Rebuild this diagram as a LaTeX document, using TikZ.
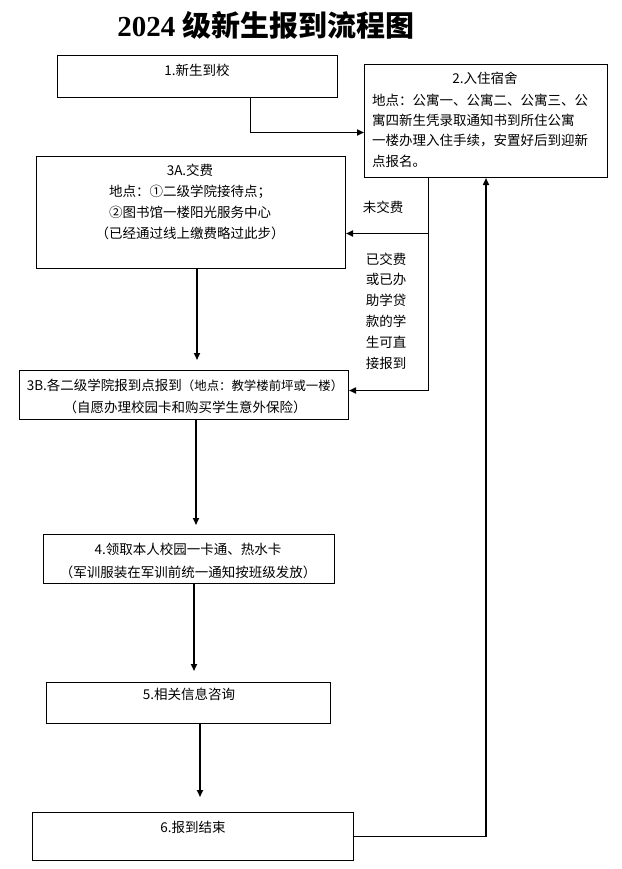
\documentclass[tikz,border=0pt]{standalone}
\usepackage{fontspec}
\setmainfont{Noto Sans CJK SC}
\newfontfamily\titlenum{Liberation Serif}
\usetikzlibrary{arrows.meta}

\tikzset{
  box/.style={draw,line width=1pt,rectangle,inner sep=0pt,anchor=north west},
  txt/.style={align=center,inner sep=0pt,font=\fontsize{13.5}{21}\selectfont},
  conn/.style={line width=1.6pt},
}

\begin{document}
\begin{tikzpicture}[x=1pt,y=-1pt,>={Triangle[length=7pt,width=6pt]}]
\useasboundingbox (0,0) rectangle (621,869);
\node (title) at (266,25) {\fontsize{29}{32}\selectfont\bfseries\titlenum 2024 \rmfamily 级新生报到流程图};
% boxes
\node[box,minimum width=280,minimum height=42] (b1) at (57,55) {};
\node[box,minimum width=243,minimum height=113] (b2) at (364,64) {};
\node[box,minimum width=309,minimum height=112] (b3a) at (36,156) {};
\node[box,minimum width=329,minimum height=49] (b3b) at (19,370) {};
\node[box,minimum width=291,minimum height=49] (b4) at (43,534) {};
\node[box,minimum width=284,minimum height=41] (b5) at (46,682) {};
\node[box,minimum width=321,minimum height=48] (b6) at (32,812) {};
% texts
\node[txt] (t1) at (197,70) {1.新生到校};
\node[txt] (t2) at (485,78) {2.入住宿舍};
\node[txt,align=left,anchor=west,font=\fontsize{13.5}{20.3}\selectfont] (t2b) at (372,130.5)
  {地点：公寓一、公寓二、公寓三、公\\寓四新生凭录取通知书到所住公寓\\一楼办理入住手续，安置好后到迎新\\点报名。};
\node[txt] (t3a) at (190,201.5) {3A.交费\\地点：①二级学院接待点；\\②图书馆一楼阳光服务中心\\（已经通过线上缴费略过此步）};
\node[txt,font=\fontsize{13.5}{22}\selectfont] (t3b) at (185,396)
  {3B.各二级学院报到点报到{\fontsize{12.4}{22}\selectfont（地点：教学楼前坪或一楼）}\\（自愿办理校园卡和购买学生意外保险）};
\node[txt,font=\fontsize{13.5}{23}\selectfont] (t4) at (188,560.5) {4.领取本人校园一卡通、热水卡\\（军训服装在军训前统一通知按班级发放）};
\node[txt] (t5) at (189,694) {5.相关信息咨询};
\node[txt] (t6) at (193,827) {6.报到结束};
\node[txt] (nopay) at (383,207) {未交费};
\node[txt,font=\fontsize{13.5}{20.8}\selectfont] (paid) at (386,311) {已交费\\或已办\\助学贷\\款的学\\生可直\\接报到};
% connectors
\coordinate (fork) at ([xshift=-57.5pt]b2.south);
\coordinate (back) at ([yshift=-21pt]b3a.east);
\draw[conn,->] ([xshift=53pt]b1.south) |- ([yshift=-11.5pt]b2.west);
\draw[conn,->] (fork) |- ([yshift=4.5pt]b3b.east);
\draw[conn,->] (back -| fork) -- (back);
\draw[conn,->] (b6.east) -| (b2.south);
\draw[conn,->,shorten >=10pt] (b3a.south -| 197,0) -- (b3b.north -| 197,0);
\draw[conn,->,shorten >=9pt] (b3b.south -| 196,0) -- (b4.north -| 196,0);
\draw[conn,->,shorten >=11pt] (b4.south -| 194,0) -- (b5.north -| 194,0);
\draw[conn,->,shorten >=15pt] (b5.south -| 200,0) -- (b6.north -| 200,0);
\end{tikzpicture}
\end{document}
